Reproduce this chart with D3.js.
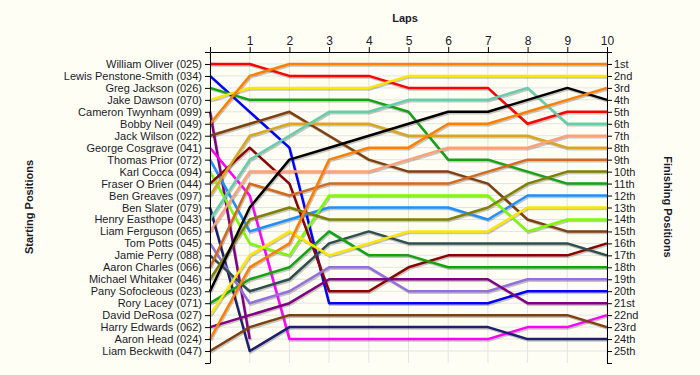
<!DOCTYPE html>
<html>
<head>
<meta charset="utf-8">
<script src="https://cdn.jsdelivr.net/npm/d3@7"></script>
<style>
  html, body { margin: 0; padding: 0; background: #fefef4; }
  #main { width: 700px; height: 375px; }
  text { font-family: "Liberation Sans", Arial, sans-serif; fill: #1a1a2a; }
</style>
</head>
<body>
<div id="main"></div>
<script>
'use strict';

// starting grid, top to bottom
var drivers = [
  "William Oliver (025)", "Lewis Penstone-Smith (034)", "Greg Jackson (026)",
  "Jake Dawson (070)", "Cameron Twynham (099)", "Bobby Neil (049)",
  "Jack Wilson (022)", "George Cosgrave (041)", "Thomas Prior (072)",
  "Karl Cocca (094)", "Fraser O Brien (044)", "Ben Greaves (097)",
  "Ben Slater (079)", "Henry Easthope (043)", "Liam Ferguson (065)",
  "Tom Potts (045)", "Jamie Perry (088)", "Aaron Charles (066)",
  "Michael Whitaker (046)", "Pany Sofocleous (023)", "Rory Lacey (071)",
  "David DeRosa (027)", "Harry Edwards (062)", "Aaron Head (024)",
  "Liam Beckwith (047)"
];

var colours = [
  "#ff0000", "#0000ff", "#13a313", "#ffe600", "#800080",
  "#ff8000", "#7f4010", "#ff00ff", "#1e90ff", "#7cfc00",
  "#8b0000", "#daa520", "#1f1f6e", "#66cdaa", "#ffa07a",
  "#9370db", "#2f4f4f", "#d2691e", "#808000", "#000000",
  "#13a313", "#ffe600", "#800080", "#ff8000", "#7f4010"
];

// position at the end of each lap (lap 0 = grid)
var positions = [
  [1, 1, 2, 2, 2, 3, 3, 3, 6, 5, 5],
  [2, 5, 8, 21, 21, 21, 21, 21, 20, 20, 20],
  [3, 4, 4, 4, 4, 5, 9, 9, 10, 11, 11],
  [4, 3, 3, 3, 3, 2, 2, 2, 2, 2, 2],
  [5, 24],
  [6, 2, 1, 1, 1, 1, 1, 1, 1, 1, 1],
  [7, 6, 5, 7, 9, 10, 10, 11, 14, 15, 15],
  [8, 12, 24, 24, 24, 24, 24, 24, 23, 23, 22],
  [9, 15, 14, 13, 13, 13, 13, 14, 12, 12, 12],
  [10, 16, 17, 12, 12, 12, 12, 12, 15, 14, 14],
  [11, 8, 11, 20, 20, 18, 17, 17, 17, 17, 16],
  [12, 7, 6, 6, 6, 7, 7, 7, 7, 8, 8],
  [13, 25, 23, 23, 23, 23, 23, 23, 24, 24, 24],
  [14, 9, 7, 5, 5, 4, 4, 4, 3, 6, 6],
  [15, 10, 10, 10, 10, 9, 8, 8, 8, 7, 7],
  [16, 21, 20, 18, 18, 20, 20, 20, 19, 19, 19],
  [17, 20, 19, 16, 15, 16, 16, 16, 16, 16, 17],
  [18, 11, 12, 11, 11, 11, 11, 10, 9, 9, 9],
  [19, 14, 13, 14, 14, 14, 14, 13, 11, 10, 10],
  [20, 13, 9, 8, 7, 6, 5, 5, 4, 3, 4],
  [21, 19, 18, 15, 17, 17, 18, 18, 18, 18, 18],
  [22, 17, 15, 17, 16, 15, 15, 15, 13, 13, 13],
  [23, 22, 21, 19, 19, 19, 19, 19, 21, 21, 21],
  [24, 18, 16, 9, 8, 8, 6, 6, 5, 4, 3],
  [25, 23, 22, 22, 22, 22, 22, 22, 22, 22, 23]
];

var finishLabels = [
  "1st", "2nd", "3rd", "4th", "5th", "6th", "7th", "8th", "9th", "10th",
  "11th", "12th", "13th", "14th", "15th", "16th", "17th", "18th", "19th", "20th",
  "21st", "22nd", "23rd", "24th", "25th"
];

var laps = d3.range(0, 11);

var width = 700, height = 375;
var svg = d3.select('#main').append('svg')
  .attr('width', width).attr('height', height);

var x = d3.scaleLinear().domain([0, 10]).range([210, 607]);
var y = d3.scaleLinear().domain([0, 26]).range([52, 363]);
var allTicks = d3.range(0, 27);

// grid
var grid = svg.append('g').attr('class', 'grid');
grid.selectAll('line.v')
  .data(laps).enter().append('line')
  .attr('x1', function(d) { return x(d); })
  .attr('x2', function(d) { return x(d); })
  .attr('y1', y(0)).attr('y2', y(26))
  .attr('stroke', '#e4e4e4').attr('stroke-width', 1);
grid.selectAll('line.h')
  .data(d3.range(1, 26)).enter().append('line')
  .attr('y1', function(d) { return y(d); })
  .attr('y2', function(d) { return y(d); })
  .attr('x1', x(0)).attr('x2', x(10))
  .attr('stroke', '#e4e4e4').attr('stroke-width', 1);

// lines
var line = d3.line()
  .x(function(d, i) { return x(i); })
  .y(function(d) { return y(d); });

var series = svg.append('g').attr('class', 'series');
series.selectAll('path.shadow')
  .data(positions).enter().append('path')
  .attr('class', 'shadow')
  .attr('d', line)
  .attr('transform', 'translate(1,1.5)')
  .attr('fill', 'none')
  .attr('stroke', '#000')
  .attr('stroke-opacity', 0.22)
  .attr('stroke-width', 2.5);

series.selectAll('path.driver')
  .data(positions).enter().append('path')
  .attr('class', 'driver')
  .attr('d', line)
  .attr('fill', 'none')
  .attr('stroke', function(d, i) { return colours[i]; })
  .attr('stroke-width', 2.5)
  .attr('stroke-linejoin', 'round');

// axes
var lapAxis = svg.append('g')
  .attr('transform', 'translate(0,' + y(0) + ')')
  .call(d3.axisTop(x).tickValues(laps)
    .tickFormat(function(d) { return d === 0 ? '' : d; })
    .tickSize(5).tickSizeOuter(0).tickPadding(2));
lapAxis.selectAll('text').style('font-size', '12px');

var startAxis = svg.append('g')
  .attr('transform', 'translate(' + x(0) + ',0)')
  .call(d3.axisLeft(y).tickValues(allTicks)
    .tickFormat(function(d) { return drivers[d - 1] || ''; })
    .tickSize(5).tickSizeOuter(0).tickPadding(3));
startAxis.selectAll('text').style('font-size', '11px');

var finishAxis = svg.append('g')
  .attr('transform', 'translate(' + x(10) + ',0)')
  .call(d3.axisRight(y).tickValues(allTicks)
    .tickFormat(function(d) { return finishLabels[d - 1] || ''; })
    .tickSize(5).tickSizeOuter(0).tickPadding(2));
finishAxis.selectAll('text').style('font-size', '11px');

svg.selectAll('.domain, .tick line').attr('stroke', '#000');
svg.selectAll('.tick text').attr('fill', '#1a1a2a');

// titles
svg.append('text')
  .attr('x', 405).attr('y', 22)
  .attr('text-anchor', 'middle')
  .style('font-size', '11px').style('font-weight', 'bold')
  .text('Laps');

svg.append('text')
  .attr('transform', 'translate(33,' + 207 + ') rotate(-90)')
  .attr('text-anchor', 'middle')
  .style('font-size', '11px').style('font-weight', 'bold')
  .text('Starting Positions');

svg.append('text')
  .attr('transform', 'translate(664,' + 207 + ') rotate(90)')
  .attr('text-anchor', 'middle')
  .style('font-size', '11px').style('font-weight', 'bold')
  .text('Finishing Positions');
</script>
</body>
</html>
